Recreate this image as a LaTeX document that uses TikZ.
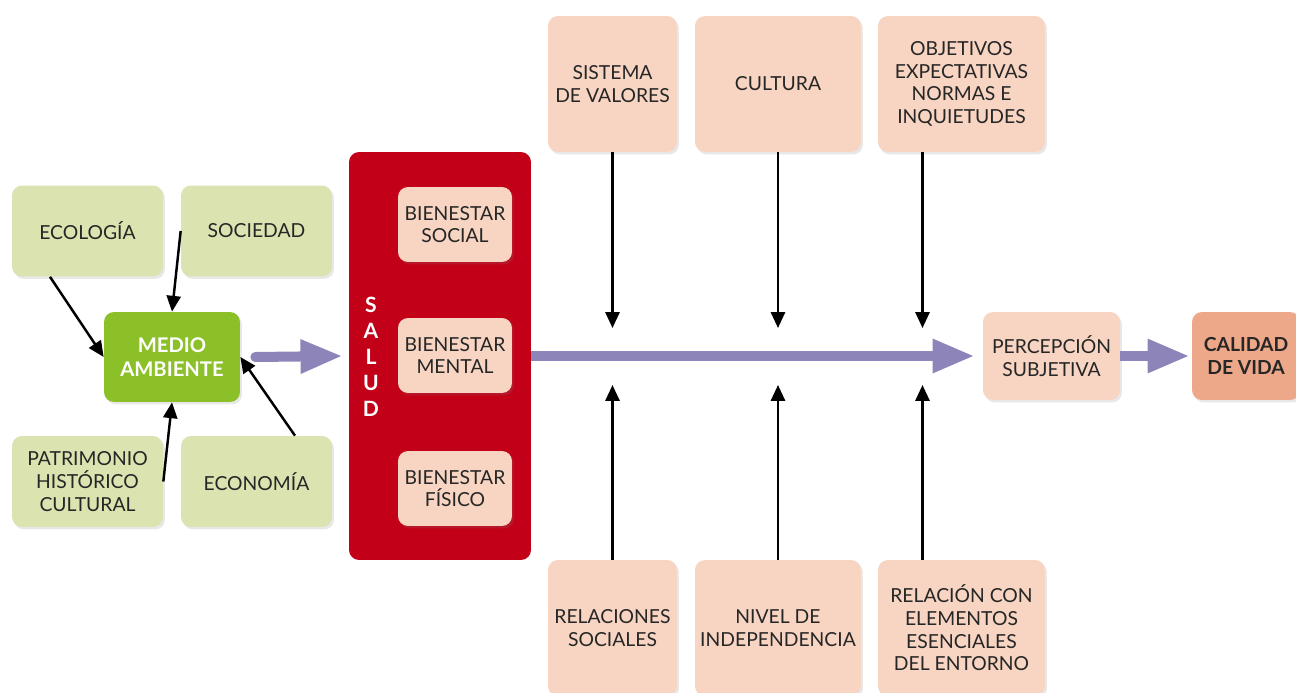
\documentclass[tikz,border=0pt]{standalone}
\usepackage{fontspec}
\setmainfont{Lato}
\usepackage{tikz}
\usetikzlibrary{shadows}
\usetikzlibrary{arrows.meta}
\usetikzlibrary{positioning}

\definecolor{verdeclaro}{RGB}{219,227,176}
\definecolor{verde}{RGB}{139,192,40}
\definecolor{rojo}{RGB}{194,0,24}
\definecolor{rosa}{RGB}{247,213,194}
\definecolor{salmon}{RGB}{236,168,136}
\definecolor{lila}{RGB}{141,133,185}

\begin{document}
\begin{tikzpicture}[x=0.02cm, y=-0.02cm,
    caja/.style={rounded corners=0.2cm, align=center, inner sep=0pt, text=black!85,
        font=\fontsize{11}{12.9}\selectfont,
        drop shadow={opacity=0.18, shadow xshift=0.04cm, shadow yshift=-0.05cm}},
    cajaverde/.style={caja, fill=verdeclaro, minimum width=3.02cm, minimum height=1.82cm},
    cajarosa/.style={caja, fill=rosa},
    flecha/.style={-{Triangle[length=9pt, width=8pt]}, line width=1.4pt, black},
    gruesa/.style={-{Triangle[length=24pt, width=18pt]}, line width=5.7pt, lila}]

    \useasboundingbox (0,0) rectangle (1296,693);

    % entorno
    \node[cajaverde] (eco) at (87.5,231) {ECOLOGÍA};
    \node[cajaverde] (soc) at (256.5,231) {SOCIEDAD};
    \node[cajaverde] (pat) at (87.5,481.5) {PATRIMONIO\\HISTÓRICO\\CULTURAL};
    \node[cajaverde] (econ) at (256.5,481.5) {ECONOMÍA};
    \node[caja, fill=verde, text=white, minimum width=2.72cm, minimum height=1.8cm,
        font=\bfseries\fontsize{11.5}{13.5}\selectfont] (medio) at (172,357) {MEDIO\\AMBIENTE};

    \draw[flecha] ([xshift=-0.75cm]eco.south) -- (medio.west);
    \draw[flecha] (soc.west) -- (medio.north);
    \draw[flecha] (pat.east) -- (medio.south);
    \draw[flecha] ([xshift=0.77cm]econ.north) -- (medio.east);

    % salud
    \node[fill=rojo, rounded corners=0.2cm, minimum width=3.64cm, minimum height=8.16cm] (salud) at (440,356) {};
    \node[text=white, align=center, font=\bfseries\fontsize{12}{14.8}\selectfont] (letras) at (371,357) {S\\A\\L\\U\\D};
    \node[cajarosa, minimum width=2.28cm, minimum height=1.5cm] (bsoc) at (455,224.5) {BIENESTAR\\SOCIAL};
    \node[cajarosa, minimum width=2.28cm, minimum height=1.5cm] (bmen) at (455,355.5) {BIENESTAR\\MENTAL};
    \node[cajarosa, minimum width=2.28cm, minimum height=1.5cm] (bfis) at (455,488.5) {BIENESTAR\\FÍSICO};

    % factores de arriba
    \node[cajarosa, minimum width=2.58cm, minimum height=2.72cm] (sis) at (612.5,84) {SISTEMA\\DE VALORES};
    \node[cajarosa, minimum width=3.32cm, minimum height=2.72cm] (cul) at (778,84) {CULTURA};
    \node[cajarosa, minimum width=3.34cm, minimum height=2.72cm] (obj) at (961.5,84) {OBJETIVOS\\EXPECTATIVAS\\NORMAS E\\INQUIETUDES};

    % factores de abajo
    \node[cajarosa, minimum width=2.58cm, minimum height=2.72cm] (rel) at (612.5,628) {RELACIONES\\SOCIALES};
    \node[cajarosa, minimum width=3.32cm, minimum height=2.72cm] (niv) at (778,628) {NIVEL DE\\INDEPENDENCIA};
    \node[cajarosa, minimum width=3.34cm, minimum height=2.72cm] (ent) at (961.5,628) {RELACIÓN CON\\ELEMENTOS\\ESENCIALES\\DEL ENTORNO};

    % resultado
    \node[cajarosa, minimum width=2.74cm, minimum height=1.76cm] (per) at (1051.5,356) {PERCEPCIÓN\\SUBJETIVA};
    \node[caja, fill=salmon, minimum width=2.16cm, minimum height=1.76cm,
        font=\bfseries\fontsize{11}{13}\selectfont] (cal) at (1246,356) {CALIDAD\\DE VIDA};

    \coordinate (t1) at (612.5,328);
    \coordinate (t2) at (778,328);
    \coordinate (t3) at (922.5,328);
    \coordinate (b1) at (612.5,385);
    \coordinate (b2) at (778,385);
    \coordinate (b3) at (922.5,385);

    \draw[flecha] (sis.south) -- (t1);
    \draw[flecha] (cul.south) -- (t2);
    \draw[flecha] (obj.south -| t3) -- (t3);
    \draw[flecha] (rel.north) -- (b1);
    \draw[flecha] (niv.north) -- (b2);
    \draw[flecha] (ent.north -| b3) -- (b3);

    \draw[gruesa, line cap=round] ([xshift=0.3cm]medio.east) -- ([xshift=-0.12cm]salud.west);
    \draw[gruesa] (salud.east) -- ([xshift=-0.16cm]per.west);
    \draw[gruesa] (per.east) -- ([xshift=-0.04cm]cal.west);

\end{tikzpicture}
\end{document}
